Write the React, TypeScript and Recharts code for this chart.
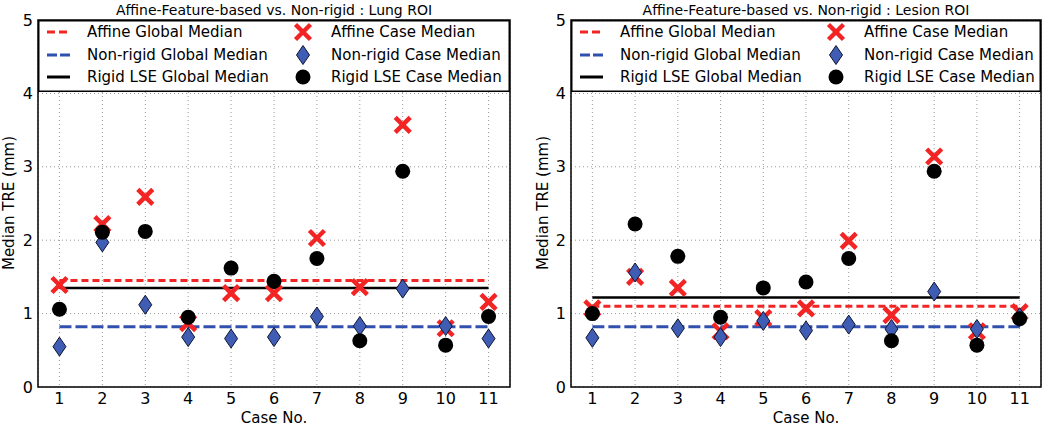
import React from 'react';
import {
  ComposedChart,
  Line,
  Scatter,
  XAxis,
  YAxis,
  CartesianGrid,
  Legend,
  ReferenceArea,
} from 'recharts';

// ---------- data ----------
const cases = [1, 2, 3, 4, 5, 6, 7, 8, 9, 10, 11];
const xTicks = [1, 2, 3, 4, 5, 6, 7, 8, 9, 10, 11];
const yTicks = [0, 1, 2, 3, 4, 5];

const lungAffine = [1.39, 2.22, 2.59, 0.87, 1.28, 1.28, 2.03, 1.36, 3.57, 0.8, 1.16];
const lungNonrigid = [0.55, 1.97, 1.12, 0.68, 0.66, 0.68, 0.96, 0.83, 1.34, 0.83, 0.66];
const lungRigid = [1.06, 2.11, 2.12, 0.95, 1.62, 1.44, 1.75, 0.63, 2.94, 0.57, 0.96];
// global medians: affine, non-rigid, rigid LSE
const lungGlobal = [1.45, 0.82, 1.35];

const lesionAffine = [1.07, 1.5, 1.35, 0.76, 0.94, 1.07, 1.99, 0.98, 3.14, 0.76, 1.02];
const lesionNonrigid = [0.67, 1.56, 0.8, 0.68, 0.9, 0.77, 0.85, 0.79, 1.3, 0.79, 0.95];
const lesionRigid = [1.0, 2.22, 1.78, 0.95, 1.35, 1.43, 1.75, 0.63, 2.94, 0.57, 0.93];
const lesionGlobal = [1.1, 0.82, 1.22];

const legendLeft = ['Affine Global Median', 'Non-rigid Global Median', 'Rigid LSE Global Median'];
const legendRight = ['Affine Case Median', 'Non-rigid Case Median', 'Rigid LSE Case Median'];

const titles = [
  'Affine-Feature-based vs. Non-rigid : Lung ROI',
  'Affine-Feature-based vs. Non-rigid : Lesion ROI',
];
const xLabel = 'Case No.';
const yLabel = 'Median TRE (mm)';

// ---------- styles ----------
const FONT = '"DejaVu Sans", Verdana, sans-serif';
const RED = '#f22424';
const BLUE_FILL = '#3f5db5';
const BLUE_LINE = '#3050b0';
const DASH_RED = '7 4';
const DASH_BLUE = '12 4';

function buildRows(a: number[], n: number[], r: number[], g: number[]) {
  return cases.map((c, i) => ({
    case: c,
    affine: a[i],
    nonrigid: n[i],
    rigid: r[i],
    affineG: g[0],
    nonrigidG: g[1],
    rigidG: g[2],
  }));
}

const XMark = ({ cx, cy }: any) => {
  if (cx == null || cy == null) return null;
  const s = 7.5;
  return (
    <g>
      <line x1={cx - s} y1={cy - s} x2={cx + s} y2={cy + s} stroke={RED} strokeWidth={4.5} />
      <line x1={cx - s} y1={cy + s} x2={cx + s} y2={cy - s} stroke={RED} strokeWidth={4.5} />
    </g>
  );
};

const Diamond = ({ cx, cy }: any) => {
  if (cx == null || cy == null) return null;
  const w = 6.5;
  const h = 9.5;
  return (
    <polygon
      points={`${cx},${cy - h} ${cx + w},${cy} ${cx},${cy + h} ${cx - w},${cy}`}
      fill={BLUE_FILL}
      stroke="#101530"
      strokeWidth={1}
    />
  );
};

const Dot = ({ cx, cy }: any) => {
  if (cx == null || cy == null) return null;
  return <circle cx={cx} cy={cy} r={7.5} fill="#000" />;
};

const LegendBox = ({ width }: { width: number }) => {
  const rowsY = [12, 35, 57];
  return (
    <svg width={width} height={72} style={{ display: 'block' }}>
      <rect x={0.75} y={0.75} width={width - 1.5} height={70.5} fill="#fff" stroke="#000" strokeWidth={1.5} />
      {legendLeft.map((t, i) => (
        <g key={t}>
          {i === 0 && <line x1={9} x2={32} y1={rowsY[i]} y2={rowsY[i]} stroke={RED} strokeWidth={3} strokeDasharray="8 4" />}
          {i === 1 && <line x1={9} x2={32} y1={rowsY[i]} y2={rowsY[i]} stroke={BLUE_LINE} strokeWidth={3} strokeDasharray="10 3" />}
          {i === 2 && <line x1={9} x2={32} y1={rowsY[i]} y2={rowsY[i]} stroke="#000" strokeWidth={3} />}
          <text x={49} y={rowsY[i]} dy="0.36em" fontSize={15} fontFamily={FONT} fill="#000">
            {t}
          </text>
        </g>
      ))}
      {legendRight.map((t, i) => (
        <g key={t}>
          {i === 0 && <XMark cx={265} cy={rowsY[i]} />}
          {i === 1 && <Diamond cx={265} cy={rowsY[i]} />}
          {i === 2 && <Dot cx={265} cy={rowsY[i]} />}
          <text x={293} y={rowsY[i]} dy="0.36em" fontSize={15} fontFamily={FONT} fill="#000">
            {t}
          </text>
        </g>
      ))}
    </svg>
  );
};

type PanelProps = {
  rows: any[];
  title: string;
  yAxisWidth: number;
  rightMargin: number;
  yLabelX: number;
};

const Panel = ({ rows, title, yAxisWidth, rightMargin, yLabelX }: PanelProps) => {
  const W = 525;
  const H = 427;
  const plotLeft = yAxisWidth;
  const plotRight = W - rightMargin;
  const plotW = plotRight - plotLeft;
  const cx = (plotLeft + plotRight) / 2;
  const tickStyle = { fontSize: 16, fontFamily: FONT, fill: '#000' };
  return (
    <ComposedChart
      width={W}
      height={H}
      data={rows}
      margin={{ top: 20, right: rightMargin, bottom: 0, left: 0 }}
    >
      <CartesianGrid stroke="#999" strokeDasharray="1 3" strokeWidth={1} />
      <XAxis
        dataKey="case"
        type="number"
        domain={[0.5, 11.5]}
        ticks={xTicks}
        height={40}
        tickSize={0}
        tickMargin={6}
        tickLine={false}
        axisLine={false}
        tick={tickStyle}
        interval={0}
        allowDataOverflow
      />
      <YAxis
        type="number"
        domain={[0, 5]}
        ticks={yTicks}
        width={yAxisWidth}
        tickSize={0}
        tickMargin={5}
        tickLine={false}
        axisLine={false}
        tick={tickStyle}
        interval={0}
        allowDataOverflow
      />
      <Line dataKey="affineG" stroke={RED} strokeWidth={3} strokeDasharray={DASH_RED} dot={false} isAnimationActive={false} />
      <Line dataKey="nonrigidG" stroke={BLUE_LINE} strokeWidth={3} strokeDasharray={DASH_BLUE} dot={false} isAnimationActive={false} />
      <Line dataKey="rigidG" stroke="#000" strokeWidth={2.5} dot={false} isAnimationActive={false} />
      <Scatter dataKey="affine" shape={(p: any) => <XMark cx={p.cx} cy={p.cy} />} isAnimationActive={false} />
      <Scatter dataKey="nonrigid" shape={(p: any) => <Diamond cx={p.cx} cy={p.cy} />} isAnimationActive={false} />
      <Scatter dataKey="rigid" shape={(p: any) => <Dot cx={p.cx} cy={p.cy} />} isAnimationActive={false} />
      <ReferenceArea x1={0.5} x2={11.5} y1={0} y2={5} fill="none" fillOpacity={0} stroke="#000" strokeWidth={1.5} />
      <Legend
        layout="horizontal"
        verticalAlign="middle"
        align="center"
        width={plotW}
        height={72}
        wrapperStyle={{ top: 20, left: plotLeft, width: plotW, height: 72 }}
        content={() => <LegendBox width={plotW} />}
      />
      <text x={cx} y={15} textAnchor="middle" fontSize={14} fontFamily={FONT} fill="#000">
        {title}
      </text>
      <text x={cx} y={423} textAnchor="middle" fontSize={15} fontFamily={FONT} fill="#000">
        {xLabel}
      </text>
      <text
        x={yLabelX}
        y={203}
        textAnchor="middle"
        fontSize={15}
        fontFamily={FONT}
        fill="#000"
        transform={`rotate(-90 ${yLabelX} 203)`}
        dy="0.36em"
      >
        {yLabel}
      </text>
    </ComposedChart>
  );
};

export default function App() {
  const lungRows = buildRows(lungAffine, lungNonrigid, lungRigid, lungGlobal);
  const lesionRows = buildRows(lesionAffine, lesionNonrigid, lesionRigid, lesionGlobal);
  return (
    <div style={{ position: 'absolute', left: 0, top: 0, width: 1050, height: 427, background: '#fff' }}>
      <div style={{ position: 'absolute', left: 0, top: 0 }}>
        <Panel rows={lungRows} title={titles[0]} yAxisWidth={38} rightMargin={15} yLabelX={9} />
      </div>
      <div style={{ position: 'absolute', left: 525, top: 0 }}>
        <Panel rows={lesionRows} title={titles[1]} yAxisWidth={46} rightMargin={9} yLabelX={18} />
      </div>
    </div>
  );
}
